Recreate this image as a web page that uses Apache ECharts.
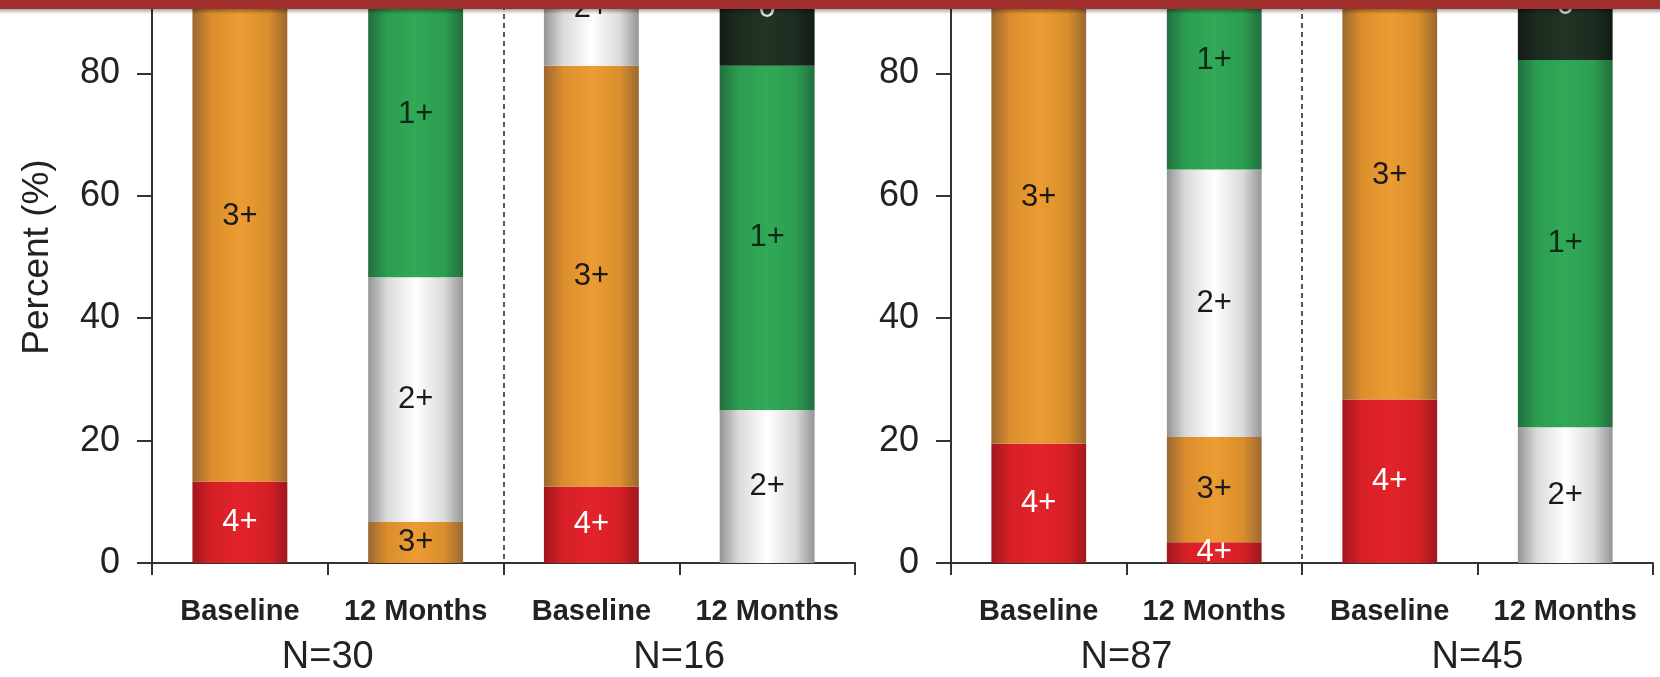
<!DOCTYPE html>
<html><head><meta charset="utf-8">
<script src="https://cdn.jsdelivr.net/npm/echarts@6/dist/echarts.min.js"></script>
<style>html,body{margin:0;padding:0;background:#fff}#c{width:1660px;height:677px}</style>
</head><body><div id="c"></div><script>
// ---- data ----
const timepoints = ['Baseline', '12 Months', 'Baseline', '12 Months'];
const leftGroups = ['N=30', 'N=16'];
const rightGroups = ['N=87', 'N=45'];
const grades = ['4+', '3+', '2+', '1+', '0'];
const yTicks = [0, 20, 40, 60, 80, 100];
// bar order: N30 BL, N30 12M, N16 BL, N16 12M | N87 BL, N87 12M, N45 BL, N45 12M
const g4 = [13.3, null, 12.5, null, 19.5, 3.4, 26.7, null];
const g3 = [86.7, 6.7, 68.75, null, 80.5, 17.2, 73.3, null];
const g2 = [null, 40.0, 18.75, 25.0, null, 43.7, null, 22.2];
const g1 = [null, 53.3, null, 56.25, null, 35.7, null, 60.0];
const g0 = [null, null, null, 18.75, null, null, null, 17.8];

const FONT = 'Liberation Sans, Arial, Helvetica, sans-serif';
function grad(edge, mid, center) {
  return { type: 'linear', x: 0, y: 0, x2: 1, y2: 0, colorStops: [
    { offset: 0, color: edge }, { offset: 0.2, color: mid }, { offset: 0.5, color: center },
    { offset: 0.8, color: mid }, { offset: 1, color: edge }] };
}
const gradeData = [g4, g3, g2, g1, g0];
const gradeStyle = [
  { fill: grad('#a0181d', '#d61f26', '#e3232a'), label: '#ffffff' },
  { fill: grad('#9a6830', '#db8e2d', '#ec9c32'), label: '#1a1a1a' },
  { fill: grad('#959595', '#dadada', '#ffffff'), label: '#1a1a1a' },
  { fill: grad('#226f3e', '#2c9d51', '#31a957'), label: '#0d2a14' },
  { fill: grad('#121c15', '#1c2c20', '#213425'), label: '#dddddd' }
];
const axisColor = '#333';

const grids = [
  { left: 152, width: 703, top: -49, height: 612, outerBoundsMode: 'none', containLabel: false },
  { left: 951, width: 702, top: -49, height: 612, outerBoundsMode: 'none', containLabel: false }
];
const xAxis = [];
const yAxis = [];
const series = [];
[leftGroups, rightGroups].forEach((groups, p) => {
  const base = xAxis.length;
  xAxis.push({
    type: 'category', gridIndex: p, data: timepoints,
    axisLine: { show: true, onZero: false, lineStyle: { color: axisColor, width: 2 } },
    axisTick: { show: true, length: 12, interval: 0, alignWithLabel: false, lineStyle: { color: axisColor, width: 2 } },
    axisLabel: { interval: 0, fontSize: 29, fontWeight: 'bold', color: '#222', margin: 34, fontFamily: FONT },
    splitLine: { show: false }
  });
  xAxis.push({
    type: 'category', gridIndex: p, position: 'bottom', data: groups,
    axisLine: { show: false, onZero: false }, axisTick: { show: false }, splitLine: { show: false },
    axisLabel: { interval: 0, fontSize: 38, color: '#222', margin: 76, fontFamily: FONT }
  });
  // helper axis: one dashed divider between the two groups of the panel
  xAxis.push({
    type: 'value', gridIndex: p, position: 'bottom', min: 0, max: timepoints.length, interval: timepoints.length / 2,
    axisLine: { show: false, onZero: false }, axisTick: { show: false }, axisLabel: { show: false },
    splitLine: { show: true, showMinLine: false, showMaxLine: false,
      lineStyle: { type: [5, 4], color: '#222', width: 1.5 } }
  });
  yAxis.push({
    type: 'value', gridIndex: p, min: yTicks[0], max: yTicks[yTicks.length - 1], interval: 20,
    name: p === 0 ? 'Percent (%)' : '', nameLocation: 'middle', nameGap: 95,
    nameTextStyle: { fontSize: 37, color: '#222', fontFamily: FONT },
    axisLine: { show: true, lineStyle: { color: axisColor, width: 2 } },
    axisTick: { show: true, length: 15, lineStyle: { color: axisColor, width: 2 } },
    axisLabel: { fontSize: 36, color: '#222', margin: 32, fontFamily: FONT },
    splitLine: { show: false }
  });
  grades.forEach((g, k) => {
    series.push({
      type: 'bar', name: g, xAxisIndex: base, yAxisIndex: p, stack: 'panel' + p,
      barWidth: '54%',
      data: gradeData[k].slice(p * 4, p * 4 + 4),
      itemStyle: { color: gradeStyle[k].fill },
      label: { show: true, position: 'inside', formatter: g, color: gradeStyle[k].label, fontSize: 31, fontFamily: FONT },
      emphasis: { disabled: true }
    });
  });
});

const chart = echarts.init(document.getElementById('c'), null, { renderer: 'canvas' });
chart.setOption({
  animation: false,
  backgroundColor: '#ffffff',
  grid: grids,
  xAxis: xAxis,
  yAxis: yAxis,
  series: series,
  graphic: [
    { type: 'rect', z: 100, shape: { x: 0, y: 0, width: 1660, height: 9 }, style: { fill: '#a02f2e' } },
    { type: 'rect', z: 100, shape: { x: 0, y: 9, width: 1660, height: 5 },
      style: { fill: { type: 'linear', x: 0, y: 0, x2: 0, y2: 1, colorStops: [
        { offset: 0, color: 'rgba(0,0,0,0.35)' }, { offset: 1, color: 'rgba(0,0,0,0)' }] } } }
  ]
});
</script></body></html>
